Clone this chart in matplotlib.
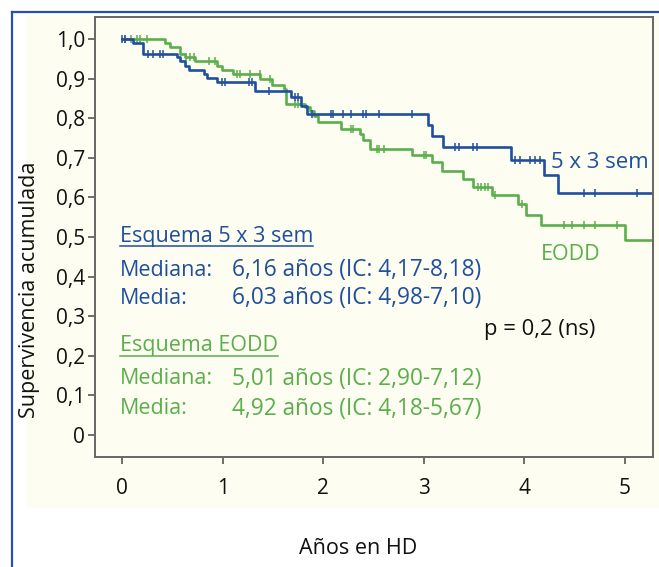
import numpy as np
import matplotlib
matplotlib.use("Agg")
import matplotlib.pyplot as plt
from matplotlib.patches import Rectangle
from matplotlib.lines import Line2D

plt.rcParams['font.family'] = ['Open Sans', 'DejaVu Sans']

# Curva Kaplan-Meier: esquema 5 x 3 sem (tiempos de evento y supervivencia tras el salto)
t_53 = [0, 0.106, 0.212, 0.55, 0.58, 0.626, 0.66, 0.815, 0.845, 0.94, 1.322,
        1.68, 1.78, 1.836, 3.045, 3.08, 3.19, 3.87, 4.20, 4.34]
s_53 = [1.0, 0.99, 0.962, 0.955, 0.945, 0.933, 0.922, 0.912, 0.902, 0.891, 0.868,
        0.853, 0.832, 0.81, 0.782, 0.756, 0.727, 0.695, 0.656, 0.612]
cens_53 = [0.0, 0.03, 0.26, 0.31, 0.38, 0.41, 0.99, 1.02, 1.26, 1.29, 1.46, 1.72,
           1.75, 1.885, 2.08, 2.10, 2.20, 2.28, 2.40, 2.43, 2.55, 2.88, 3.31, 3.35,
           3.49, 3.53, 3.91, 3.96, 4.06, 4.11, 4.16, 4.59, 4.70, 5.12]

# Curva Kaplan-Meier: esquema EODD
t_eodd = [0, 0.427, 0.477, 0.577, 0.626, 0.726, 0.941, 0.99, 1.107, 1.372, 1.488,
          1.61, 1.63, 1.82, 1.87, 1.91, 1.95, 2.18, 2.37, 2.40, 2.465, 2.88, 3.08,
          3.18, 3.39, 3.49, 3.675, 3.94, 4.02, 4.17, 5.0]
s_eodd = [1.0, 0.99, 0.98, 0.962, 0.955, 0.946, 0.933, 0.922, 0.912, 0.899, 0.885,
          0.874, 0.836, 0.828, 0.818, 0.806, 0.79, 0.773, 0.761, 0.744, 0.723, 0.706,
          0.689, 0.668, 0.647, 0.626, 0.605, 0.584, 0.555, 0.530, 0.492]
cens_eodd = [0.03, 0.09, 0.15, 0.18, 0.25, 0.64, 0.67, 0.71, 0.86, 0.92, 1.14, 1.17,
             1.27, 1.37, 1.47, 1.72, 1.75, 2.28, 2.30, 2.53, 2.55, 2.60, 3.0, 3.02,
             3.54, 3.57, 3.61, 3.64, 3.71, 3.98, 4.39, 4.47, 4.59, 4.70, 4.92]

t_max = 5.28
x_ticks = [0, 1, 2, 3, 4, 5]
y_ticks = [0, 0.1, 0.2, 0.3, 0.4, 0.5, 0.6, 0.7, 0.8, 0.9, 1.0]
y_labels = ['0', '0,1', '0,2', '0,3', '0,4', '0,5', '0,6', '0,7', '0,8', '0,9', '1,0']

azul = '#1f4f9e'
verde = '#5aae4c'
crema = '#fdfdf1'

fig = plt.figure(figsize=(6.59, 5.67), dpi=100)
W, H = 659, 567

# marco azul y panel crema
fig.patches.append(Rectangle((26 / W, 1 - 508 / H), (W - 26) / W, (508 - 15) / H,
                             transform=fig.transFigure, facecolor=crema,
                             edgecolor='none', zorder=-5))
fig.add_artist(Line2D([11.5 / W, 11.5 / W], [0, 1 - 12 / H], color='#2650b0', lw=1.6))
fig.add_artist(Line2D([11.5 / W, 1], [1 - 12 / H, 1 - 12 / H], color='#2650b0', lw=1.6))

ax = fig.add_axes([95 / W, 1 - 457 / H, (653 - 95) / W, (457 - 17) / H])
ax.set_facecolor(crema)
ax.set_zorder(2)


def escalon(t, s):
    x = list(t) + [t_max]
    y = list(s) + [s[-1]]
    return x, y


def censura(t, s, c):
    idx = np.searchsorted(np.array(t), np.array(c), side='right') - 1
    return np.array(c), np.array(s)[idx]


for t, s, c, col in [(t_eodd, s_eodd, cens_eodd, verde), (t_53, s_53, cens_53, azul)]:
    x, y = escalon(t, s)
    ax.step(x, y, where='post', color=col, lw=1.9)
    cx, cy = censura(t, s, c)
    ax.plot(cx, cy, ls='none', marker='|', ms=5.5, mew=1.1, color=col)

ax.set_xlim(-0.27, t_max)
ax.set_ylim(-0.056, 1.056)
ax.set_xticks(x_ticks)
ax.set_xticklabels([str(v) for v in x_ticks])
ax.set_yticks(y_ticks)
ax.set_yticklabels(y_labels)
ax.tick_params(axis='both', labelsize=15, colors='#555555', labelcolor='#111111',
               length=5, width=1.2, direction='out')
ax.tick_params(axis='x', pad=10)
ax.tick_params(axis='y', pad=2)
for sp in ax.spines.values():
    sp.set_color('#666666')
    sp.set_linewidth(1.4)

fs = 15.5
fs_val = 16.3

# textos en coordenadas de figura (pixeles)
def px(x, y):
    return x / W, 1 - y / H


ax.text(*px(30, 290), 'Supervivencia acumulada', rotation=90, fontsize=fs,
        ha='center', va='center', color='#111111', transform=fig.transFigure)
fig.text(*px(358, 548), 'Años en HD', fontsize=fs, ha='center', va='center',
         color='#111111')

# etiquetas de las curvas
ax.text(*px(551, 162), '5 x 3 sem', fontsize=16, color=azul, va='center',
        transform=fig.transFigure)
ax.text(*px(541, 255), 'EODD', fontsize=15.5, color=verde, va='center',
        transform=fig.transFigure)
ax.text(*px(484, 330), 'p = 0,2 (ns)', fontsize=15.8, color='#111111', va='center',
        transform=fig.transFigure)

# bloques de texto con medianas y medias
titulos = [(237, 'Esquema 5 x 3 sem', azul), (346, 'Esquema EODD', verde)]
filas = [(270, 'Mediana:', '6,16 años (IC: 4,17-8,18)', azul),
         (298, 'Media:', '6,03 años (IC: 4,98-7,10)', azul),
         (379, 'Mediana:', '5,01 años (IC: 2,90-7,12)', verde),
         (409, 'Media:', '4,92 años (IC: 4,18-5,67)', verde)]

tit_objs = []
for y, txt, col in titulos:
    tit_objs.append((ax.text(*px(120, y), txt, fontsize=fs, color=col, va='center',
                             transform=fig.transFigure), col))
for y, etq, val, col in filas:
    ax.text(*px(120, y), etq, fontsize=fs, color=col, va='center',
            transform=fig.transFigure)
    ax.text(*px(232, y), val, fontsize=fs_val, color=col, va='center',
            transform=fig.transFigure)

# subrayado de los titulos
fig.canvas.draw()
r = fig.canvas.get_renderer()
for tobj, col in tit_objs:
    bb = tobj.get_window_extent(renderer=r)
    yl = bb.y0 + 1
    ax.add_line(Line2D([bb.x0 / W, bb.x1 / W], [yl / H, yl / H], color=col, lw=1.1,
                       transform=fig.transFigure))

fig.savefig('out.png', dpi=100)
